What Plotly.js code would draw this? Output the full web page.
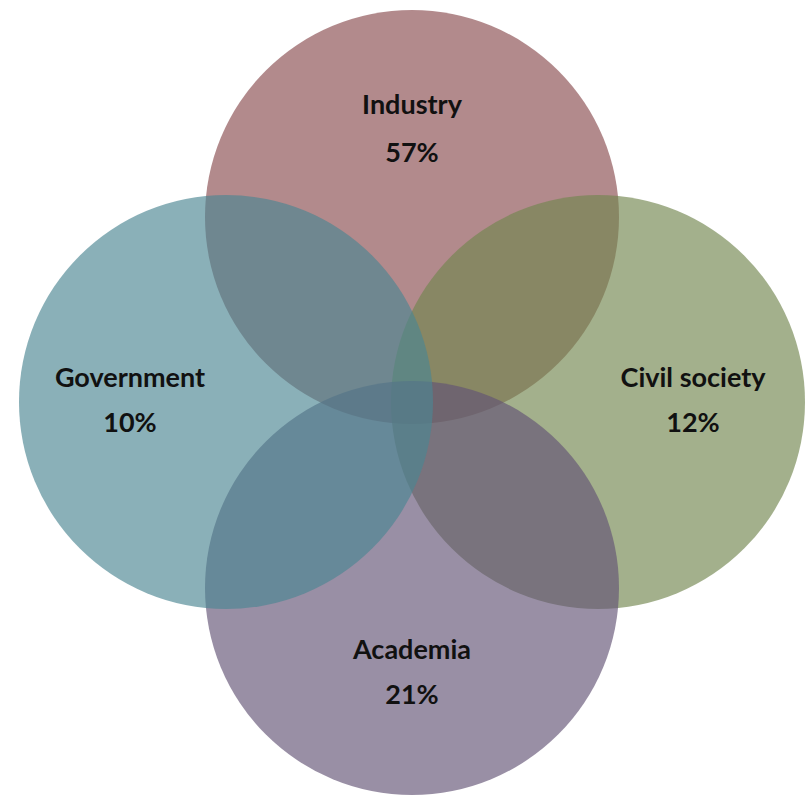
<!DOCTYPE html>
<html>
<head>
<meta charset="utf-8">
<script src="https://cdn.plot.ly/plotly-3.0.1.min.js"></script>
<style>
  html, body { margin: 0; padding: 0; background: #ffffff; }
  #chart { width: 807px; height: 796px; }
</style>
</head>
<body>
<div id="chart"></div>
<script>
// ---- data ----
const categories = ['Industry', 'Civil society', 'Academia', 'Government'];
const shares = [57, 12, 21, 10];

// ---- layout / style (positions in pixel-like axis units) ----
const centerX = [412, 598, 412, 226];
const centerY = [217, 402, 588, 402];
const radius = 207;
const fillColors = ['rgb(136,75,78)', 'rgb(113,133,78)', 'rgb(98,83,116)', 'rgb(76,133,146)'];
const fillOpacity = 0.65;
const nameX = [412, 693, 412, 130];
const nameY = [107, 380, 652, 380];
const pctX = [412, 693, 412, 130];
const pctY = [155, 425, 697, 425];

const shapes = categories.map((c, i) => ({
  type: 'circle', xref: 'x', yref: 'y', layer: 'below',
  x0: centerX[i] - radius, x1: centerX[i] + radius,
  y0: centerY[i] - radius, y1: centerY[i] + radius,
  fillcolor: fillColors[i], opacity: fillOpacity,
  line: { width: 0 }
}));

const font = { family: 'Lato, "Open Sans", sans-serif', size: 27, color: '#111111', weight: 'bold' };

const traces = [
  {
    type: 'scatter', mode: 'text', x: nameX, y: nameY,
    text: categories.map(c => '<b>' + c + '</b>'),
    textposition: 'middle center', textfont: font, hoverinfo: 'skip', showlegend: false
  },
  {
    type: 'scatter', mode: 'text', x: pctX, y: pctY,
    text: shares.map(v => '<b>' + v + '%</b>'),
    textposition: 'middle center', textfont: font, hoverinfo: 'skip', showlegend: false
  }
];

const layout = {
  width: 807, height: 796,
  margin: { l: 0, r: 0, t: 0, b: 0, pad: 0 },
  paper_bgcolor: '#ffffff', plot_bgcolor: '#ffffff',
  xaxis: { range: [0, 807], visible: false, fixedrange: true },
  yaxis: { range: [796, 0], visible: false, fixedrange: true },
  shapes: shapes,
  showlegend: false
};

Plotly.newPlot('chart', traces, layout, { displayModeBar: false, staticPlot: true });
</script>
</body>
</html>
